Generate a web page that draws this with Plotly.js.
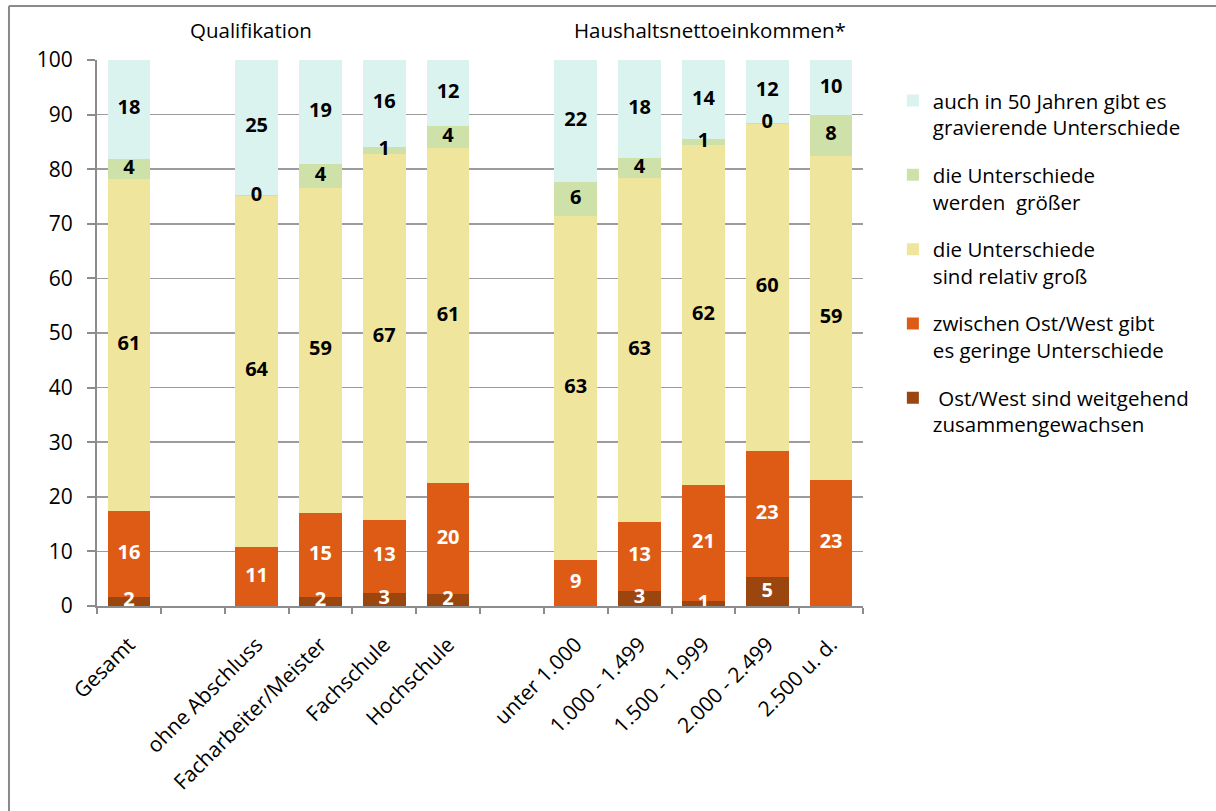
<!DOCTYPE html>
<html>
<head>
<meta charset="utf-8">
<script src="https://cdn.plot.ly/plotly-3.0.1.min.js"></script>
<style>html,body{margin:0;padding:0;background:#fff;}#chart{width:1216px;height:811px;}</style>
</head>
<body>
<div id="chart"></div>
<script>
// Categories (two blank spacer slots)
var categories = ["Gesamt", " ", "ohne Abschluss", "Facharbeiter/Meister", "Fachschule", "Hochschule", "  ",
  "unter 1.000", "1.000 - 1.499", "1.500 - 1.999", "2.000 - 2.499", "2.500 u. d."];

// Segment values (percent)
var zusammengewachsen = [1.7, null, 0, 1.7, 2.4, 2.2, null, 0, 2.75, 0.9, 5.3, 0];
var geringe          = [15.7, null, 10.8, 15.3, 13.35, 20.3, null, 8.4, 12.65, 21.3, 23.1, 23.1];
var relativGross     = [60.8, null, 64.3, 59.6, 67.05, 61.4, null, 63.1, 63.0, 62.2, 59.9, 59.4];
var groesser         = [3.7, null, 0.1, 4.4, 1.3, 4.0, null, 6.2, 3.65, 1.1, 0.2, 7.4];
var gravierend       = [18.1, null, 24.9, 19.0, 15.9, 12.1, null, 22.3, 17.95, 14.5, 11.5, 10.1];

// Printed data labels
var lblZusammen = ["2", "", "", "2", "3", "2", "", "", "3", "1", "5", ""];
var lblGering   = ["16", "", "11", "15", "13", "20", "", "9", "13", "21", "23", "23"];
var lblRelativ  = ["61", "", "64", "59", "67", "61", "", "63", "63", "62", "60", "59"];
var lblGroesser = ["4", "", "0", "4", "1", "4", "", "6", "4", "1", "0", "8"];
var lblGravier  = ["18", "", "25", "19", "16", "12", "", "22", "18", "14", "12", "10"];

var seriesNames = [
  " Ost/West sind weitgehend<br>zusammengewachsen",
  "zwischen Ost/West gibt<br>es geringe Unterschiede",
  "die Unterschiede<br>sind relativ groß",
  "die Unterschiede<br>werden  größer",
  "auch in 50 Jahren gibt es<br>gravierende Unterschiede"
];
var groupTitles = ["Qualifikation", "Haushaltsnettoeinkommen*"];

var FONT = "'Open Sans', 'Noto Sans', sans-serif";
var colors = ["#9a460e", "#de5b16", "#efe59c", "#cde1a9", "#daf3ef"];
var txtColors = ["#ffffff", "#ffffff", "#000000", "#000000", "#000000"];
var vals = [zusammengewachsen, geringe, relativGross, groesser, gravierend];
var lbls = [lblZusammen, lblGering, lblRelativ, lblGroesser, lblGravier];

var traces = vals.map(function(v, i) {
  return {
    type: "bar",
    x: categories,
    y: v,
    name: seriesNames[i],
    legendgroup: "g" + i,
    legendrank: 10 - i,
    marker: {color: colors[i], line: {width: 0}},
    hoverinfo: "skip"
  };
});

// Data labels drawn on top of all bars, centred in each stacked segment
var base = categories.map(function() { return 0; });
vals.forEach(function(v, i) {
  var xs = [], ys = [], ts = [];
  v.forEach(function(val, j) {
    if (val === null) return;
    if (lbls[i][j] !== "") {
      xs.push(categories[j]);
      ys.push(base[j] + val / 2);
      ts.push(lbls[i][j]);
    }
    base[j] += val;
  });
  traces.push({
    type: "scatter",
    mode: "text",
    x: xs,
    y: ys,
    text: ts,
    textposition: "middle center",
    textfont: {family: FONT, size: 20, color: txtColors[i], weight: "bold"},
    showlegend: false,
    cliponaxis: true,
    hoverinfo: "skip"
  });
});

var layout = {
  width: 1216,
  height: 811,
  margin: {l: 97, r: 353, t: 60, b: 205},
  paper_bgcolor: "#ffffff",
  plot_bgcolor: "#ffffff",
  barmode: "stack",
  bargap: 0.33,
  font: {family: FONT, size: 20, color: "#000"},
  showlegend: true,
  legend: {
    x: 1.039, xanchor: "left", xref: "paper",
    y: 0.962, yanchor: "top",
    traceorder: "grouped",
    tracegroupgap: 18,
    valign: "top",
    font: {family: FONT, size: 20.5, color: "#000"},
    itemwidth: 30,
    bgcolor: "rgba(0,0,0,0)"
  },
  xaxis: {
    type: "category",
    categoryorder: "array",
    categoryarray: categories,
    range: [-0.5, 11.5],
    autorange: false,
    tickson: "boundaries",
    ticks: "outside",
    ticklen: 6,
    tickwidth: 2,
    tickcolor: "#8c8c8c",
    showline: true,
    linecolor: "#8c8c8c",
    linewidth: 2,
    showgrid: false,
    tickangle: -45,
    ticklabelstandoff: 16,
    tickfont: {family: FONT, size: 21, color: "#000"},
    fixedrange: true
  },
  yaxis: {
    range: [0, 100],
    autorange: false,
    dtick: 10,
    ticks: "outside",
    ticklen: 8,
    tickwidth: 2,
    tickcolor: "#8c8c8c",
    showline: true,
    linecolor: "#8c8c8c",
    linewidth: 2,
    showgrid: true,
    gridcolor: "#9c9c9c",
    gridwidth: 1.5,
    zeroline: false,
    ticklabelstandoff: 10,
    tickfont: {family: FONT, size: 21, color: "#000"},
    fixedrange: true
  },
  annotations: [
    {text: groupTitles[0], xref: "paper", yref: "paper", x: 0.201, y: 1.055, xanchor: "center", yanchor: "middle",
     showarrow: false, font: {family: FONT, size: 20.5, color: "#000"}},
    {text: groupTitles[1], xref: "paper", yref: "paper", x: 0.80, y: 1.055, xanchor: "center", yanchor: "middle",
     showarrow: false, font: {family: FONT, size: 20.5, color: "#000"}}
  ],
  shapes: [
    {type: "line", xref: "paper", yref: "paper", x0: -0.1149, x1: 2, y0: 1.0989, y1: 1.0989,
     line: {color: "#8a8a8a", width: 2}},
    {type: "line", xref: "paper", yref: "paper", x0: -0.1149, x1: -0.1149, y0: -2, y1: 1.0989,
     line: {color: "#8a8a8a", width: 2}}
  ]
};

Plotly.newPlot("chart", traces, layout, {displayModeBar: false, staticPlot: true});
</script>
</body>
</html>
